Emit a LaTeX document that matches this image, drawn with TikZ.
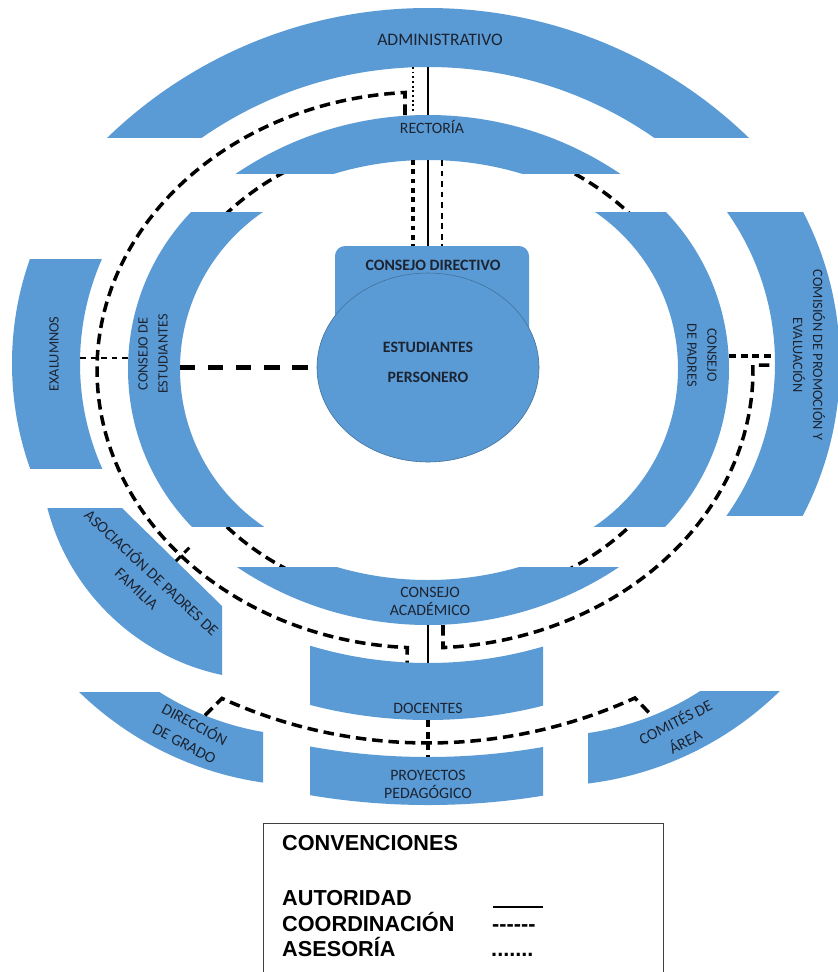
\documentclass[tikz,border=0pt]{standalone}
\usepackage{fontspec}
\setmainfont{Carlito}
\newfontfamily\legendfont{Liberation Sans}
\usetikzlibrary{shapes.geometric,calc}
\definecolor{boxblue}{RGB}{91,155,213}
\definecolor{boxedge}{RGB}{65,113,156}
\definecolor{labelcol}{RGB}{28,36,50}

\begin{document}
\begin{tikzpicture}[x=0.03cm, y=-0.03cm,
    band/.style={fill=boxblue, even odd rule},
    lbl/.style={text=labelcol, align=center, inner sep=0pt, font=\fontsize{13.5}{15.5}\selectfont},
    lblb/.style={lbl, font=\fontsize{13.5}{15.5}\selectfont\bfseries},
    side/.style={lbl, font=\fontsize{12.2}{17}\selectfont},
    slant/.style={lbl, font=\fontsize{13.5}{18.5}\selectfont},
    legtext/.style={inner sep=0pt, font=\legendfont\bfseries\fontsize{18.5}{22}\selectfont},
    authline/.style={line width=1.2pt},
    coordline/.style={line width=3pt, dash pattern=on 9pt off 5pt},
    coordthin/.style={line width=0.9pt, dash pattern=on 5pt off 4pt},
    advline/.style={line width=4pt, dash pattern=on 4pt off 4pt},
    advthin/.style={line width=1.5pt, dash pattern=on 1.5pt off 2.5pt}]
  \fill[white] (0,0) rectangle (838,972);
  \useasboundingbox (0,0) rectangle (838,972);

  \coordinate (mid) at (428,370);
  \draw[coordline] (mid) ellipse [x radius=272, y radius=233];

  % outer ring
  \begin{scope}
    \clip (100,0) rectangle (760,137);
    \fill[band] (428,469.4) circle (461.4) (428,463.6) circle (396.6);
  \end{scope}
  \begin{scope}
    \clip (0,259) rectangle (150,468);
    \fill[band] (324,363.5) circle (312) (339,363.5) circle (259);
  \end{scope}
  \begin{scope}
    \clip (700,212) rectangle (850,515);
    \fill[band] (511,363.5) circle (329) (512,363.5) circle (263);
  \end{scope}
  \begin{scope}
    \clip (0,508) -- (122,508) -- (222,606) -- (222,700) -- (0,700) -- cycle;
    \fill[band] (270,450) circle (230);
  \end{scope}
  \begin{scope}
    \clip (60,692) rectangle (263,800);
    \fill[band] (311,453) circle (333) (311,453) circle (283);
  \end{scope}
  \begin{scope}
    \clip (588,691) rectangle (800,800);
    \fill[band] (547,453) circle (333) (547,453) circle (283);
  \end{scope}

  % inner ring
  \begin{scope}
    \clip (220,100) rectangle (640,173);
    \fill[band] (428,458.5) circle (343.5) (428,485) circle (325);
  \end{scope}
  \begin{scope}
    \clip (100,212) rectangle (300,526);
    \fill[band] (355,369) circle (227) (370,369) circle (190);
  \end{scope}
  \begin{scope}
    \clip (560,212) rectangle (760,526);
    \fill[band] (502,369) circle (227) (488,369) circle (190);
  \end{scope}
  \begin{scope}
    \clip (220,567) rectangle (640,640);
    \fill[band] (428,281.5) circle (343.5) (428,255) circle (325);
  \end{scope}
  \begin{scope}
    \clip (310,600) rectangle (543,740);
    \fill[band] (428,255) circle (465) (428,255) circle (408);
  \end{scope}
  \begin{scope}
    \clip (310,730) rectangle (543,820);
    \fill[band] (428,100) circle (705) (428,100) circle (657);
  \end{scope}

  % centre
  \fill[boxblue, rounded corners=8.5pt] (335,246) rectangle (529,345);
  \node[draw=boxedge, fill=boxblue, ellipse, line width=0.5pt, inner sep=0pt,
        minimum width=6.66cm, minimum height=5.67cm] (circ) at (428,367.5) {};

  \node[lbl, font=\fontsize{15}{17}\selectfont] (admin) at (440,40) {ADMINISTRATIVO};
  \node[lbl] (rect) at (432,127) {RECTORÍA};
  \node[lblb] (cdir) at (433,265) {CONSEJO DIRECTIVO};
  \node[lblb] (est) at (428,347) {ESTUDIANTES};
  \node[lblb] (pers) at (428,377) {PERSONERO};
  \node[side, rotate=90] (exal) at (54,354) {EXALUMNOS};
  \node[side, rotate=90] (cest) at (153,354) {CONSEJO DE\\ESTUDIANTES};
  \node[side, rotate=-90] (cpad) at (702,355) {CONSEJO\\DE PADRES};
  \node[side, rotate=-90] (comis) at (809,355) {COMISIÓN DE PROMOCIÓN Y\\EVALUACIÓN};
  \node[slant, rotate=-43] (asoc) at (145,580) {ASOCIACIÓN DE PADRES DE\\FAMILIA};
  \node[slant, rotate=-28] (dgr) at (190,733) {DIRECCIÓN\\DE GRADO};
  \node[slant, rotate=27] (comit) at (680,731) {COMITÉS DE\\ÁREA};
  \node[lbl] (cacad) at (430,601) {CONSEJO\\ACADÉMICO};
  \node[lbl] (doc) at (428,708) {DOCENTES};
  \node[lbl] (proy) at (428,784) {PROYECTOS\\PEDAGÓGICO};

  % ends of the connectors
  \coordinate (admin-s) at (428,67);
  \coordinate (admin-sw) at (413,67);
  \coordinate (rect-n) at (428,115);
  \coordinate (rect-nw) at (405,115);
  \coordinate (rect-nw2) at (413,113);
  \coordinate (rect-s) at (428,160);
  \coordinate (rect-sw) at (413,160);
  \coordinate (rect-se) at (442,160);
  \coordinate (cdir-n) at (428,246);
  \coordinate (cdir-nw) at (413,246);
  \coordinate (cdir-ne) at (442,246);
  \coordinate (exal-e) at (80,358);
  \coordinate (cest-w) at (128,358);
  \coordinate (cest-e) at (180,367.5);
  \coordinate (cpad-e) at (729,356);
  \coordinate (comis-w) at (775,365);
  \coordinate (comis-w2) at (774,356);
  \coordinate (asoc-ne) at (176,561);
  \coordinate (asoc-tip) at (190,547);
  \coordinate (cacad-s) at (428,625);
  \coordinate (cacad-se) at (443,625);
  \coordinate (doc-n) at (428,663);
  \coordinate (doc-nw) at (407,662.5);
  \coordinate (doc-s) at (428,720);
  \coordinate (proy-n) at (428,757);
  \coordinate (dgr-ne) at (205,715.4);
  \coordinate (comit-nw) at (652,715.8);
  \coordinate (autsym-w) at (493,907);
  \coordinate (autsym-e) at (543,907);

  \draw[authline] (admin-s) -- (rect-n);
  \draw[authline] (rect-s) -- (cdir-n);
  \draw[authline, line width=2.4pt] (cacad-s) -- (doc-n);

  \draw[advthin] (admin-sw) -- (rect-nw2);
  \draw[advline] (rect-sw) -- (cdir-nw);

  \draw[coordthin] (rect-se) -- (cdir-ne);
  \draw[coordthin] (exal-e) -- (cest-w);
  \draw[line width=4.2pt, dash pattern=on 13pt off 11pt] (cest-e) -- (circ.west);
  \draw[coordline, line width=2.6pt, dash pattern=on 6pt off 4pt] (cpad-e) -- (comis-w2);
  \draw[coordline, line width=2.6pt, dash pattern=on 6pt off 4pt] (asoc-ne) -- (asoc-tip);
  \draw[coordline, line width=2.6pt, dash pattern=on 6pt off 4pt] (doc-s) -- (proy-n);

  \draw[coordline] (rect-nw) -- ++(0,-22.5)
    arc[start angle=-93.5, end angle=-266.9, x radius=328, y radius=278] -- (doc-nw);
  \draw[coordline] (cacad-se) -- ++(0,22.6)
    arc[start angle=86.85, end angle=-1, x radius=328, y radius=278] -- (comis-w);
  \draw[coordline] (dgr-ne) -- ++(17,-17)
    arc[start angle=114.43, end angle=65.44, radius=498] -- (comit-nw);

  % convenciones
  \draw[black!75, line width=0.8pt] (263,972) -- (263,823) -- (663,823) -- (663,972);
  \node[legtext, anchor=west] (conv) at (282,843) {CONVENCIONES};
  \node[legtext, anchor=base west] (aut) at (282,905) {AUTORIDAD};
  \node[legtext, anchor=base west] (coo) at (282,931) {COORDINACIÓN};
  \node[legtext, anchor=base west] (ase) at (282,956) {ASESORÍA};
  \draw[line width=2.4pt] (autsym-w) -- (autsym-e);
  \node[legtext, anchor=base west] (coosym) at (492,931) {-{}-{}-{}-{}-{}-};
  \node[legtext, anchor=base west] (asesym) at (491,956) {.......};
\end{tikzpicture}
\end{document}
